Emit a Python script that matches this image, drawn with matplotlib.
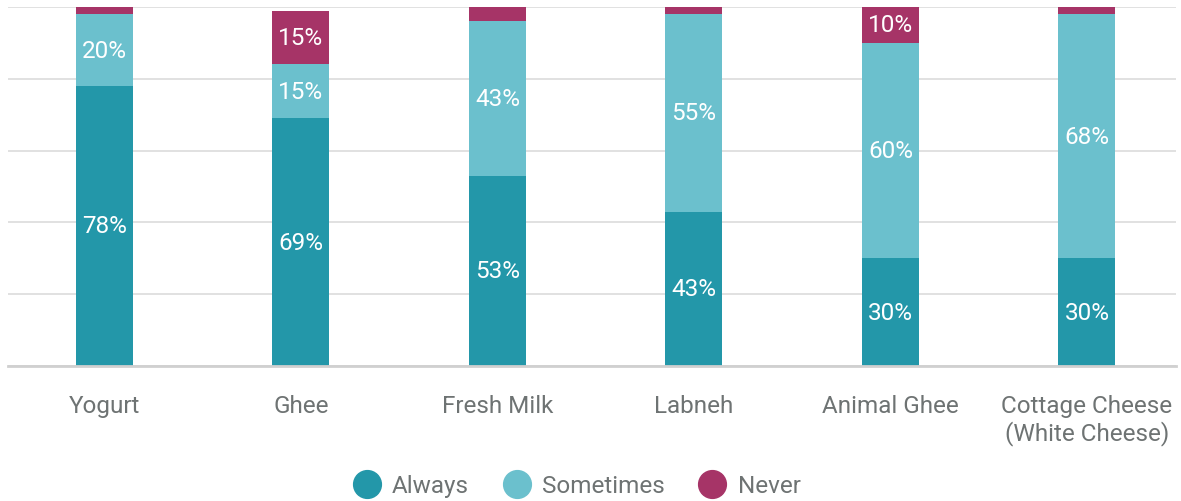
import matplotlib
matplotlib.use("Agg")
import matplotlib.pyplot as plt
from matplotlib.lines import Line2D
import numpy as np

# Share of respondents per product
categories = ["Yogurt", "Ghee", "Fresh Milk", "Labneh", "Animal Ghee", "Cottage Cheese\n(White Cheese)"]
always = [78, 69, 53, 43, 30, 30]
sometimes = [20, 15, 43, 55, 60, 68]
never = [2, 15, 4, 2, 10, 2]
series_names = ["Always", "Sometimes", "Never"]

colors = ["#2397A9", "#6BC0CD", "#A63467"]
text_gray = "#6E7373"

plt.rcParams["font.family"] = ["Roboto", "DejaVu Sans"]

fig = plt.figure(figsize=(11.81, 5.02), dpi=100)
ax = fig.add_axes([8 / 1181, 1 - 367 / 502, 1168 / 1181, 359 / 502])

x = np.arange(len(categories))
bottom = np.zeros(len(categories))
for name, vals, col in zip(series_names, [always, sometimes, never], colors):
    vals = np.array(vals, dtype=float)
    ax.bar(x, vals, width=0.29, bottom=bottom, color=col, zorder=3, label=name)
    for xi, b, v in zip(x, bottom, vals):
        if v >= 10:
            ax.text(xi, b + v / 2, f"{int(v)}%", ha="center", va="center",
                    color="white", fontsize=17.5, zorder=4)
    bottom += vals

ax.set_xlim(-0.491, 5.453)
ax.set_ylim(0, 100)
ax.set_yticks([0, 20, 40, 60, 80, 100])
ax.yaxis.grid(True, color="#DEDEDE", linewidth=1.3, zorder=0)
ax.tick_params(axis="y", left=False, labelleft=False)
ax.tick_params(axis="x", bottom=False, pad=17)
ax.set_xticks(x)
ax.set_xticklabels(categories, fontsize=17.5, color=text_gray, linespacing=1.15)
for side in ["left", "right", "top"]:
    ax.spines[side].set_visible(False)
ax.spines["bottom"].set_color("#D0D0D0")
ax.spines["bottom"].set_linewidth(2)
ax.spines["bottom"].set_zorder(5)

handles = [Line2D([], [], marker="o", linestyle="", markersize=20,
                  markerfacecolor=c, markeredgecolor=c) for c in colors]
fig.legend(handles, series_names, loc="center", bbox_to_anchor=(577 / 1181, 1 - 487 / 502),
           ncol=3, frameon=False, fontsize=17.5, labelcolor=text_gray,
           handletextpad=0.5, columnspacing=1.4, handlelength=1.1)

fig.savefig("out.png", dpi=100, facecolor="white")
